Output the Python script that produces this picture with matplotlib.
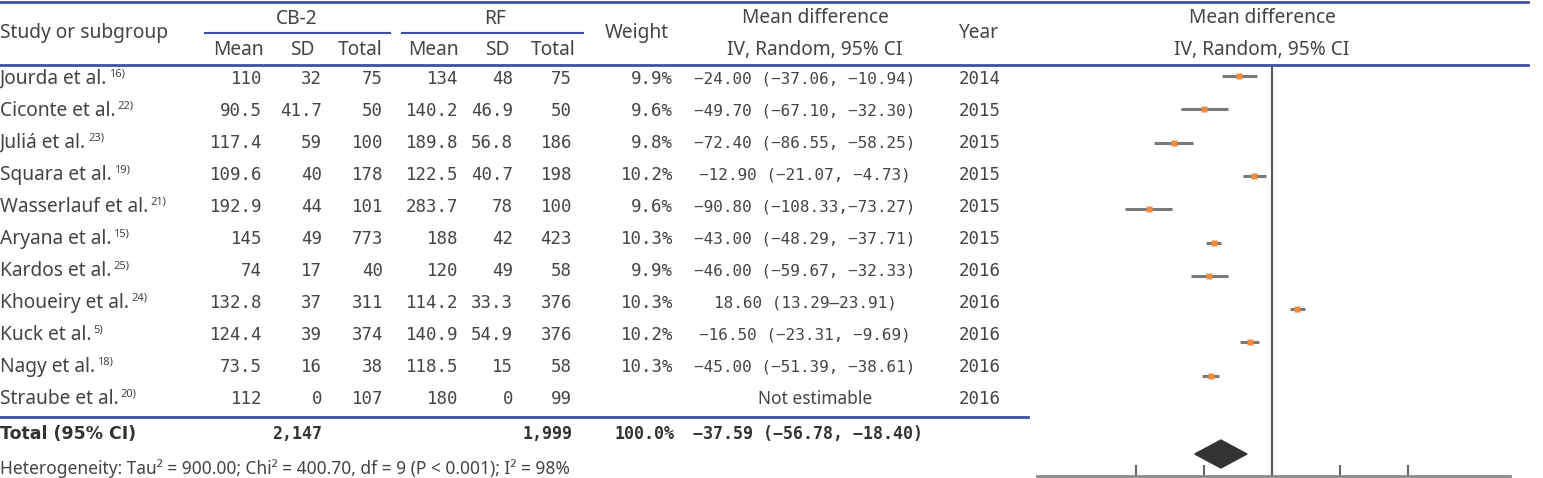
#!/usr/bin/env python3
"""Forest plot: cryoballoon (CB-2) vs radiofrequency (RF) procedure time."""

import matplotlib
matplotlib.use('Agg')
import matplotlib.pyplot as plt
from matplotlib.patches import Polygon

W, H = 1543, 478

studies = ['Jourda et al.', 'Ciconte et al.', 'Juliá et al.', 'Squara et al.',
           'Wasserlauf et al.', 'Aryana et al.', 'Kardos et al.', 'Khoueiry et al.',
           'Kuck et al.', 'Nagy et al.', 'Straube et al.']
refs = ['16)', '22)', '23)', '19)', '21)', '15)', '25)', '24)', '5)', '18)', '20)']
cb_mean = [110, 90.5, 117.4, 109.6, 192.9, 145, 74, 132.8, 124.4, 73.5, 112]
cb_sd = [32, 41.7, 59, 40, 44, 49, 17, 37, 39, 16, 0]
cb_n = [75, 50, 100, 178, 101, 773, 40, 311, 374, 38, 107]
rf_mean = [134, 140.2, 189.8, 122.5, 283.7, 188, 120, 114.2, 140.9, 118.5, 180]
rf_sd = [48, 46.9, 56.8, 40.7, 78, 42, 49, 33.3, 54.9, 15, 0]
rf_n = [75, 50, 186, 198, 100, 423, 58, 376, 376, 58, 99]
weights = [9.9, 9.6, 9.8, 10.2, 9.6, 10.3, 9.9, 10.3, 10.2, 10.3, None]
md = [-24.00, -49.70, -72.40, -12.90, -90.80, -43.00, -46.00, 18.60, -16.50, -45.00, None]
ci_lo = [-37.06, -67.10, -86.55, -21.07, -108.33, -48.29, -59.67, 13.29, -23.31, -51.39, None]
ci_hi = [-10.94, -32.30, -58.25, -4.73, -73.27, -37.71, -32.33, 23.91, -9.69, -38.61, None]
years = [2014, 2015, 2015, 2015, 2015, 2015, 2016, 2016, 2016, 2016, 2016]

total_cb, total_rf = '2,147', '1,999'
total_md, total_lo, total_hi = -37.59, -56.78, -18.40
x_ticks = [-100, -50, 50, 100]
heterogeneity = 'Heterogeneity: Tau² = 900.00; Chi² = 400.70, df = 9 (P < 0.001); I² = 98%'

SANS = ['Noto Sans', 'DejaVu Sans']
MONO = ['DejaVu Sans Mono']
TXT = '#444444'
RULE = '#3f4fa3'
FS = 13.8     # sans text
FN = 12.5     # numbers
FMD = 11.5    # mean difference column


def fmt_num(v):
    return f'{v:g}'


def fmt_md(m, lo, hi):
    if m is None:
        return None
    if lo > 0:
        s = f'{m:.2f} ({lo:.2f}–{hi:.2f})'
    elif lo <= -100:
        s = f'{m:.2f} ({lo:.2f},{hi:.2f})'
    else:
        s = f'{m:.2f} ({lo:.2f}, {hi:.2f})'
    return s.replace('-', '−')


fig = plt.figure(figsize=(W / 100, H / 100), dpi=100)
ax = fig.add_axes([0, 0, 1, 1])
ax.set_xlim(0, W)
ax.set_ylim(H, 0)
ax.axis('off')

# header
hdr = dict(family=SANS, fontsize=FS, color=TXT, va='center')
ax.text(0, 33, 'Study or subgroup', ha='left', **hdr)
ax.text(297, 19, 'CB-2', ha='center', **hdr)
ax.text(495, 19, 'RF', ha='center', **hdr)
for xc, lab in zip([238, 302, 360, 433, 497, 553],
                   ['Mean', 'SD', 'Total', 'Mean', 'SD', 'Total']):
    ax.text(xc, 50, lab, ha='center', **hdr)
ax.text(637, 33, 'Weight', ha='center', **hdr)
ax.text(815, 18, 'Mean difference', ha='center', **hdr)
ax.text(815, 50, 'IV, Random, 95% CI', ha='center', **hdr)
ax.text(978, 33, 'Year', ha='center', **hdr)
ax.text(1262, 18, 'Mean difference', ha='center', **hdr)
ax.text(1262, 50, 'IV, Random, 95% CI', ha='center', **hdr)

ax.plot([0, 1528], [2, 2], color=RULE, lw=2)
ax.plot([0, 1528], [65, 65], color=RULE, lw=2)
ax.plot([205, 390], [33, 33], color=RULE, lw=1.5)
ax.plot([402, 583], [33, 33], color=RULE, lw=1.5)
ax.plot([0, 1028], [417, 417], color=RULE, lw=2)

# study rows
fig.canvas.draw()
renderer = fig.canvas.get_renderer()
ROW0, ROWH = 79, 32
num = dict(family=MONO, fontsize=FN, color=TXT, va='center', ha='right')
for i, name in enumerate(studies):
    y = ROW0 + ROWH * i
    t = ax.text(0, y, name, family=SANS, fontsize=FS, color=TXT, va='center', ha='left')
    bb = t.get_window_extent(renderer)
    ax.text(bb.x1 + 2, y - 5, refs[i], family=SANS, fontsize=8, color=TXT,
            va='center', ha='left')
    ax.text(262, y, fmt_num(cb_mean[i]), **num)
    ax.text(322, y, fmt_num(cb_sd[i]), **num)
    ax.text(383, y, str(cb_n[i]), **num)
    ax.text(458, y, fmt_num(rf_mean[i]), **num)
    ax.text(513, y, fmt_num(rf_sd[i]), **num)
    ax.text(572, y, str(rf_n[i]), **num)
    if weights[i] is not None:
        ax.text(673, y, f'{weights[i]:.1f}%', **num)
    s = fmt_md(md[i], ci_lo[i], ci_hi[i])
    if s is None:
        ax.text(815, y, 'Not estimable', family=SANS, fontsize=12.5, color=TXT,
                va='center', ha='center')
    else:
        ax.text(805, y, s, family=MONO, fontsize=FMD, color=TXT, va='center', ha='center')
    ax.text(980, y, str(years[i]), family=MONO, fontsize=FN, color=TXT,
            va='center', ha='center')

# total row
ty = 434
ax.text(0, ty, 'Total (95% CI)', family=['DejaVu Sans'], fontsize=12.5, weight='bold',
        color='#333333', va='center', ha='left')
bold = dict(family=MONO, fontsize=12, weight='bold', color='#333333', va='center')
ax.text(322, ty, total_cb, ha='right', **bold)
ax.text(573, ty, total_rf, ha='right', **bold)
ax.text(675, ty, '100.0%', ha='right', **bold)
ax.text(693, ty, fmt_md(total_md, total_lo, total_hi), ha='left', **bold)

ax.text(0, 459, heterogeneity, family=SANS, fontsize=12.5, color=TXT,
        va='top', ha='left')

# forest panel
fx0, fx1, fy0, fy1 = 1037, 1510, 67, 476
axf = fig.add_axes([fx0 / W, (H - fy1) / H, (fx1 - fx0) / W, (fy1 - fy0) / H])
axf.set_xlim((fx0 - 1272) / 1.36, (fx1 - 1272) / 1.36)
F0, FH = 76, 33.3
axf.set_ylim((fy1 - F0) / FH, (fy0 - F0) / FH)
axf.patch.set_alpha(0)
for side in ['top', 'left', 'right']:
    axf.spines[side].set_visible(False)
axf.spines['bottom'].set_color('#8a8a8a')
axf.spines['bottom'].set_linewidth(2)
axf.set_xticks(x_ticks)
axf.tick_params(axis='x', direction='in', length=8, width=1.5, color='#666666',
                labelbottom=False)
axf.set_yticks([])
axf.axvline(0, color='#555555', lw=1.5)

for i in range(len(studies)):
    if md[i] is None:
        continue
    axf.hlines(i, ci_lo[i], ci_hi[i], color='#7a7a7a', lw=2.2)
    axf.plot(md[i], i, 's', color='#f28b3b', ms=4.8, mec='none')

dy = (454 - F0) / FH
dh = 14 / FH
axf.add_patch(Polygon([(total_lo, dy), (total_md, dy - dh), (total_hi, dy), (total_md, dy + dh)],
                      closed=True, color='#333333'))

fig.savefig('out.png', dpi=100)
